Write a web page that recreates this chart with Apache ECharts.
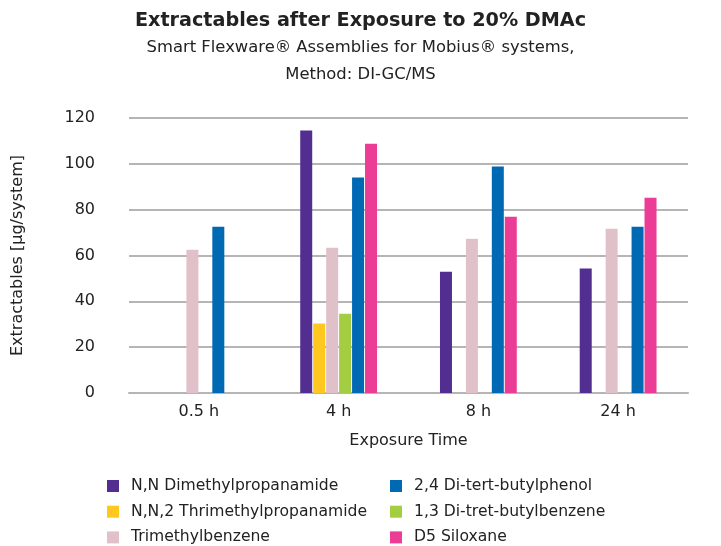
<!DOCTYPE html>
<html>
<head>
<meta charset="utf-8">
<script src="https://cdn.jsdelivr.net/npm/echarts@6/dist/echarts.min.js"></script>
<style>
  html, body { margin: 0; padding: 0; background: #fff; }
  #chart { width: 721px; height: 546px; }
</style>
</head>
<body>
<div id="chart"></div>
<script>
// Exposure time points
const categories = ['0.5 h', '4 h', '8 h', '24 h'];

// Extractables per compound, µg/system (null = not detected)
const dimethylpropanamide   = [null, 114.5, 52.9, 54.3];
const trimethylpropanamide  = [null, 30.3, null, null];
const trimethylbenzene      = [62.5, 63.4, 67.3, 71.7];
const diTretButylbenzene    = [null, 34.6, null, null];
const diTertButylphenol     = [72.6, 94.0, 98.8, 72.6];
const d5Siloxane            = [null, 108.8, 76.9, 85.2];

const yTicks = { min: 0, max: 120, interval: 20 };

const seriesDefs = [
  { name: 'N,N Dimethylpropanamide', data: dimethylpropanamide, color: '#522E91' },
  { name: 'N,N,2 Thrimethylpropanamide', data: trimethylpropanamide, color: '#FFC81E' },
  { name: 'Trimethylbenzene', data: trimethylbenzene, color: '#E1C1C9' },
  { name: '1,3 Di-tret-butylbenzene', data: diTretButylbenzene, color: '#A5CD41' },
  { name: '2,4 Di-tert-butylphenol', data: diTertButylphenol, color: '#0069B4' },
  { name: 'D5 Siloxane', data: d5Siloxane, color: '#EB3C96' }
];

const font = 'Verdana, "DejaVu Sans", sans-serif';
const textColor = '#222';

const legendText = {
  fontFamily: font, fontSize: 15.6, color: textColor, lineHeight: 16,
  padding: [0, 0, 0, 7]
};

function legendColumn(left, names) {
  return {
    orient: 'vertical',
    left: left,
    top: 478,
    padding: 0,
    height: 68,
    itemWidth: 12,
    itemHeight: 12,
    itemGap: 9.7,
    icon: 'rect',
    textStyle: legendText,
    data: names
  };
}

const chart = echarts.init(document.getElementById('chart'), null, { renderer: 'canvas' });

chart.setOption({
  animation: false,
  backgroundColor: '#fff',
  title: {
    left: 'center',
    top: 7,
    text: 'Extractables after Exposure to 20% DMAc',
    subtext: 'Smart Flexware® Assemblies for Mobius® systems,\nMethod: DI-GC/MS',
    itemGap: 3,
    textStyle: { fontFamily: font, fontSize: 19.2, fontWeight: 'bold', color: textColor },
    subtextStyle: { fontFamily: font, fontSize: 16.4, color: textColor, lineHeight: 27 }
  },
  legend: [
    legendColumn(107, [seriesDefs[0].name, seriesDefs[1].name, seriesDefs[2].name]),
    legendColumn(390, [seriesDefs[4].name, seriesDefs[3].name, seriesDefs[5].name])
  ],
  grid: { left: 129, right: 33, top: 118, bottom: 153, containLabel: false },
  xAxis: {
    type: 'category',
    data: categories,
    name: 'Exposure Time',
    nameLocation: 'middle',
    nameGap: 40,
    nameTextStyle: { fontFamily: font, fontSize: 16, color: textColor },
    axisTick: { show: false },
    axisLine: { show: true, lineStyle: { color: '#b5b5b5', width: 2 } },
    axisLabel: { fontFamily: font, fontSize: 16, color: textColor, margin: 11 }
  },
  yAxis: {
    type: 'value',
    min: yTicks.min,
    max: yTicks.max,
    interval: yTicks.interval,
    name: 'Extractables [µg/system]',
    nameLocation: 'middle',
    nameGap: 103,
    nameRotate: 90,
    nameTextStyle: { fontFamily: font, fontSize: 16, color: textColor },
    axisLine: { show: false },
    axisTick: { show: false },
    axisLabel: { fontFamily: font, fontSize: 16, color: textColor, margin: 34 },
    splitLine: { lineStyle: { color: '#b5b5b5', width: 2 } }
  },
  series: seriesDefs.map(s => ({
    name: s.name,
    type: 'bar',
    data: s.data,
    barWidth: 12,
    barGap: '8%',
    itemStyle: { color: s.color }
  }))
});
</script>
</body>
</html>
